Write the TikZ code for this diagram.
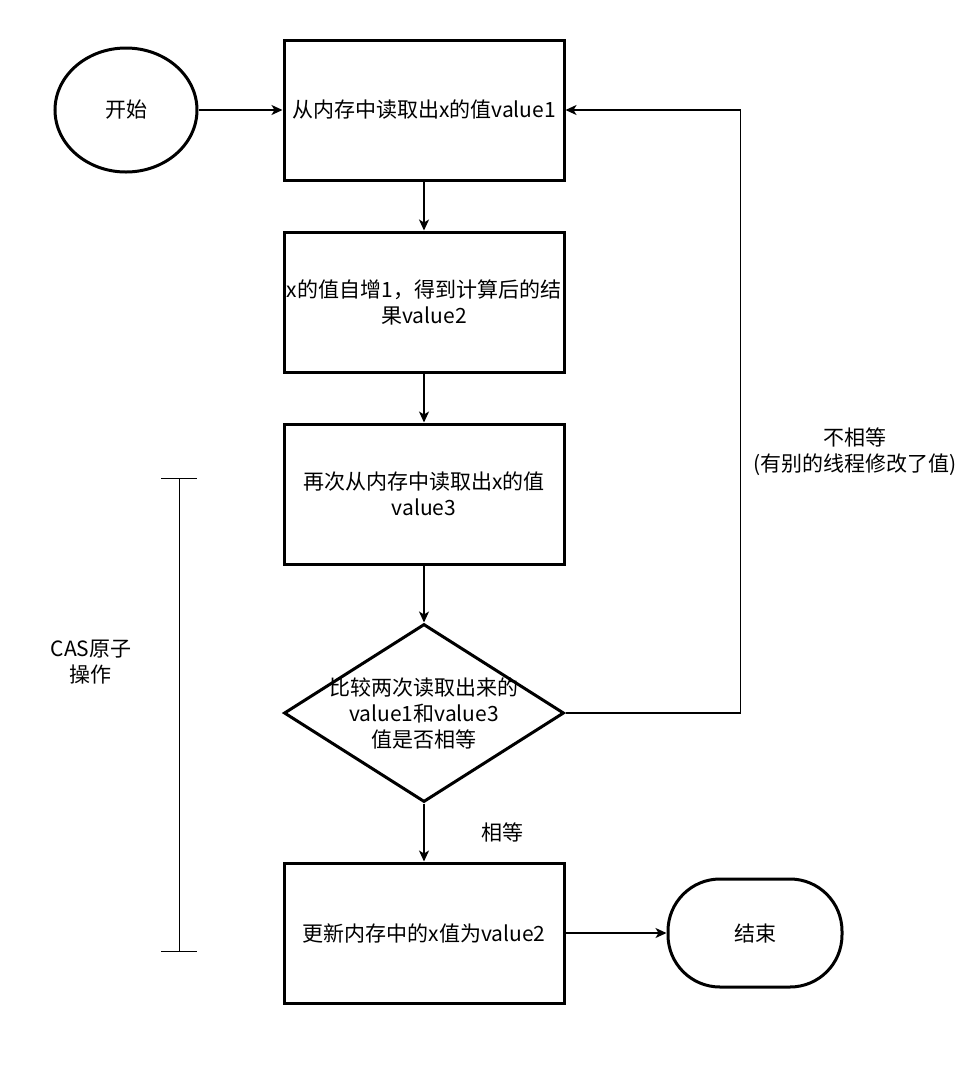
\documentclass[tikz,border=0pt]{standalone}
\usepackage{fontspec}
\setmainfont{Noto Sans CJK SC}
\usetikzlibrary{positioning,arrows.meta,shapes.geometric}
\tikzset{
  every node/.style={font=\fontsize{10.5}{13}\selectfont},
  >={Stealth[length=5.5pt,width=5pt,inset=1.5pt]},
  process/.style={draw,line width=1.5pt,minimum width=140pt,minimum height=70pt,inner xsep=1pt,align=center},
}

\begin{document}
\begin{tikzpicture}[
  flow/.style={->,line width=0.75pt},
  decision/.style={diamond,draw,line width=1.5pt,minimum width=140pt,minimum height=89pt,inner sep=0pt},
  terminal/.style={draw,line width=1.5pt,align=center}
]
\useasboundingbox (0,0) rectangle (488.5pt,-533.5pt);

\node[process] (read1) at (212pt,-55pt) {从内存中读取出x的值value1};
\node[process,below=24.5pt of read1] (incr) {x的值自增1，得到计算后的结\\果value2};
\node[process,below=24.5pt of incr] (read2) {再次从内存中读取出x的值\\value3};
\node[decision,below=28.5pt of read2,
  label={[align=center]center:比较两次读取出来的\\value1和value3\\值是否相等}] (cmp) {};
\node[process,below=29pt of cmp] (update) {更新内存中的x值为value2};

\node[terminal,ellipse,minimum width=71pt,minimum height=62pt,left=42pt of read1] (begin) {开始};
\node[terminal,rounded corners=26pt,minimum width=87pt,minimum height=54pt,right=50.5pt of update] (finish) {结束};

\coordinate[right=87.5pt of cmp.east] (turn);
\node[align=center] (neq) at (427.5pt,-226pt) {不相等\\(有别的线程修改了值)};

\path[flow]
(begin) edge (read1)
(read1) edge (incr)
(incr) edge (read2)
(read2) edge (cmp)
(cmp) edge node[right=25pt] {相等} (update)
(update) edge (finish);

\draw[flow] (cmp.east) -- (turn) |- (read1.east);

% CAS bracket
\coordinate (btop) at (89.5pt,-239pt);
\coordinate (bbot) at (89.5pt,-475.5pt);
\draw[line width=0.5pt] (btop) -- (bbot);
\draw[line width=0.5pt] ([xshift=-9pt]btop) -- ([xshift=9pt]btop);
\draw[line width=0.5pt] ([xshift=-9pt]bbot) -- ([xshift=9pt]bbot);
\node[align=center] (cas) at (45.5pt,-331pt) {CAS原子\\操作};

\end{tikzpicture}
\end{document}
